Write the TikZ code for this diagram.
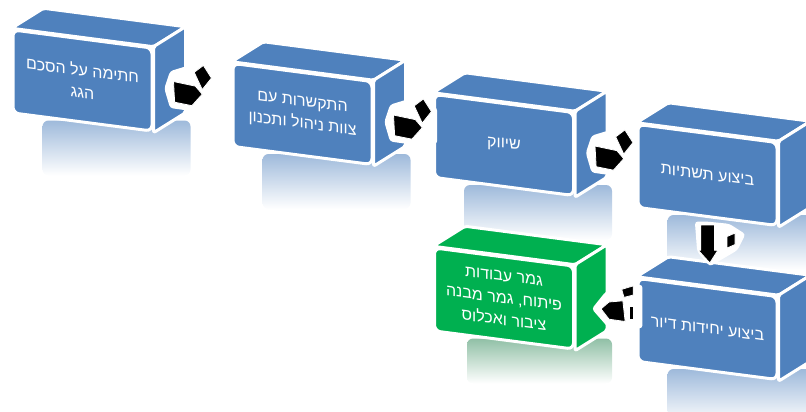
\documentclass[tikz,border=0pt]{standalone}
\usepackage{fontspec}
\usepackage{tikz}
\usetikzlibrary{calc}
\newfontfamily\hebfont[Script=Hebrew]{Liberation Sans}
\TeXXeTstate=1
\definecolor{boxblue}{HTML}{4F81BD}
\definecolor{boxgreen}{HTML}{00B050}

\begin{document}
\begin{tikzpicture}[x=1pt,y=-1pt]
        \tikzstyle{front} = [draw=white, line width=3pt, rounded corners=6pt, minimum width=139pt, minimum height=83pt, inner sep=2pt, yslant=-0.13, text=white, align=center, font=\hebfont\fontsize{16}{22}\selectfont]
        \tikzstyle{face} = [draw=white, line width=3pt, rounded corners=2pt, line join=round]
        \tikzstyle{refl} = [rounded corners=6pt, bottom color=white]
        \tikzstyle{halo} = [fill=white, rounded corners=3pt]
        \tikzstyle{arr} = [fill=black, draw=white, line width=0.8pt, line join=round]
        \tikzset{
          rarrow/.pic={
            \fill[halo] (-8,-2) -- (-3,-17) -- (20,-24) -- (38,-14) -- (38,17) -- (18,18) -- (-3,15) -- cycle;
            \filldraw[arr] (0,-8) -- (19,-4) -- (25,3) -- (16,13) -- (1,10) -- cycle;
            \filldraw[arr] (18,-16) -- (26,-22) -- (33,-11) -- (25,-1) -- cycle;
          },
          darrow/.pic={
            \fill[halo] (-11,-3) -- (-9,23) -- (2,36) -- (26,22) -- (33,8) -- (19,-1) -- (-1,-3) -- cycle;
            \filldraw[arr] (-6,0) -- (6,0) -- (6,22) -- (9,22) -- (2,33) -- (-8,22) -- (-6,22) -- cycle;
            \filldraw[arr] (17,10) -- (24,7) -- (24,17) -- (17,20) -- cycle;
          },
          larrow/.pic={
            \fill[halo] (-8,1) -- (4,-14) -- (20,-20) -- (36,-20) -- (36,18) -- (6,17) -- cycle;
            \filldraw[arr] (0,1) -- (7,-5) -- (19,-6) -- (21,12) -- (7,10) -- cycle;
            \filldraw[arr] (25,-1) rectangle (28,10);
            \filldraw[arr] (18,-16) -- (28,-19) -- (28,-11) -- (20,-9) -- cycle;
          }
        }
        \useasboundingbox (0,0) rectangle (806,412);
        \clip (0,0) rectangle (806,412);
        % box centres
        \coordinate (c1) at (82.5,80.5);
        \coordinate (c2) at (302.5,114);
        \coordinate (c3) at (504,145);
        \coordinate (c4) at (707.5,175);
        \coordinate (c5) at (707.5,329);
        \coordinate (c6) at (504,298.5);
        % reflections
        \shade[refl, top color=boxblue!55] ($(c1)+(-40,40)$) rectangle ($(c1)+(108,95)$);
        \shade[refl, top color=boxblue!55] ($(c2)+(-40,40)$) rectangle ($(c2)+(108,95)$);
        \shade[refl, top color=boxblue!55] ($(c3)+(-40,40)$) rectangle ($(c3)+(108,95)$);
        \shade[refl, top color=boxblue!55] ($(c4)+(-40,40)$) rectangle ($(c4)+(108,95)$);
        \shade[refl, top color=boxblue!55] ($(c5)+(-40,40)$) rectangle ($(c5)+(108,95)$);
        \shade[refl, top color=boxgreen!45!gray!60] ($(c6)+(-37,40)$) rectangle ($(c6)+(108,85)$);
        % boxes
        \node[front, fill=boxblue] (b1) at (c1) {\beginR חתימה על הסכם\endR\\\beginR הגג\endR};
        \draw[face, fill=boxblue] (b1.north west) -- (b1.north east) -- ++(32,-20) -- ($(b1.north west)+(32,-20)$) -- cycle;
        \draw[face, fill=boxblue] (b1.north east) -- ++(32,-20) -- ($(b1.south east)+(32,-20)$) -- (b1.south east) -- cycle;
        \node[front, fill=boxblue] (b2) at (c2) {\beginR התקשרות עם\endR\\\beginR צוות ניהול ותכנון\endR};
        \draw[face, fill=boxblue] (b2.north west) -- (b2.north east) -- ++(32,-20) -- ($(b2.north west)+(32,-20)$) -- cycle;
        \draw[face, fill=boxblue] (b2.north east) -- ++(32,-20) -- ($(b2.south east)+(32,-20)$) -- (b2.south east) -- cycle;
        \node[front, fill=boxblue] (b3) at (c3) {\beginR שיווק\endR};
        \draw[face, fill=boxblue] (b3.north west) -- (b3.north east) -- ++(32,-20) -- ($(b3.north west)+(32,-20)$) -- cycle;
        \draw[face, fill=boxblue] (b3.north east) -- ++(32,-20) -- ($(b3.south east)+(32,-20)$) -- (b3.south east) -- cycle;
        \node[front, fill=boxblue] (b4) at (c4) {\beginR ביצוע תשתיות\endR};
        \draw[face, fill=boxblue] (b4.north west) -- (b4.north east) -- ++(32,-20) -- ($(b4.north west)+(32,-20)$) -- cycle;
        \draw[face, fill=boxblue] (b4.north east) -- ++(32,-20) -- ($(b4.south east)+(32,-20)$) -- (b4.south east) -- cycle;
        \node[front, fill=boxblue] (b5) at (c5) {\beginR ביצוע יחידות דיור\endR};
        \draw[face, fill=boxblue] (b5.north west) -- (b5.north east) -- ++(32,-20) -- ($(b5.north west)+(32,-20)$) -- cycle;
        \draw[face, fill=boxblue] (b5.north east) -- ++(32,-20) -- ($(b5.south east)+(32,-20)$) -- (b5.south east) -- cycle;
        \node[front, fill=boxgreen] (b6) at (c6) {\beginR גמר עבודות\endR\\\beginR פיתוח, גמר מבנה\endR\\\beginR ציבור ואכלוס\endR};
        \draw[face, fill=boxgreen] (b6.north west) -- (b6.north east) -- ++(32,-20) -- ($(b6.north west)+(32,-20)$) -- cycle;
        \draw[face, fill=boxgreen] (b6.north east) -- ++(32,-20) -- ($(b6.south east)+(32,-20)$) -- (b6.south east) -- cycle;
        % arrows
        \pic[scale=1.15] (a1) at ($(b1.east)+(20,1)$) {rarrow};
        \pic[scale=1.15] (a2) at ($(b2.east)+(20,1)$) {rarrow};
        \pic[scale=1.15] (a3) at ($(b3.east)+(20,1)$) {rarrow};
        \pic[scale=1.15] (a4) at ($(b4.south)+(0,7)$) {darrow};
        \pic[scale=1.15] (a5) at ($(b6.east)+(26,0)$) {larrow};
\end{tikzpicture}
\end{document}
